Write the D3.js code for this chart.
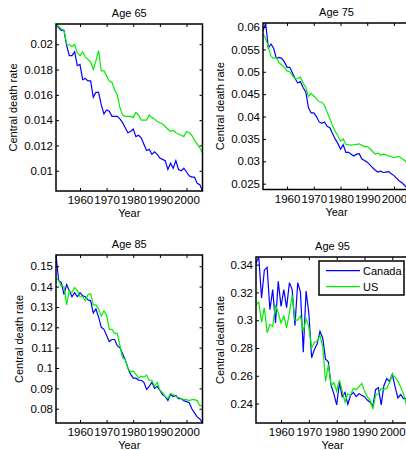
<!DOCTYPE html>
<html>
<head>
  <meta charset="UTF-8">
  <style>
    body { margin: 0; background: #fff; }
    svg { display: block; }
    text { font-family: "Liberation Sans", Arial, sans-serif; font-size: 11px; fill: #000; }
  </style>
</head>
<body>
<svg></svg>
<script src="https://d3js.org/d3.v7.min.js"></script>
<script>

let width = 406, height = 450;

// data
let years = [1951, 1952, 1953, 1954, 1955, 1956, 1957, 1958, 1959, 1960,
  1961, 1962, 1963, 1964, 1965, 1966, 1967, 1968, 1969, 1970,
  1971, 1972, 1973, 1974, 1975, 1976, 1977, 1978, 1979, 1980,
  1981, 1982, 1983, 1984, 1985, 1986, 1987, 1988, 1989, 1990,
  1991, 1992, 1993, 1994, 1995, 1996, 1997, 1998, 1999, 2000,
  2001, 2002, 2003, 2004, 2005, 2006];

let canada65 = [0.0216, 0.0213, 0.0211, 0.0211, 0.0199, 0.0191, 0.0191, 0.0194, 0.0183, 0.0184,
  0.0172, 0.0173, 0.0171, 0.0171, 0.0158, 0.0162, 0.0162, 0.0152, 0.0145, 0.0148,
  0.0147, 0.0143, 0.0143, 0.0143, 0.0141, 0.0138, 0.0134, 0.0130, 0.0131, 0.0133,
  0.0127, 0.0128, 0.0126, 0.0121, 0.0116, 0.0117, 0.0113, 0.0115, 0.0113, 0.0110,
  0.0109, 0.0108, 0.0101, 0.0106, 0.0102, 0.0108, 0.0101, 0.0100, 0.0102, 0.0099,
  0.0096, 0.0095, 0.0095, 0.0090, 0.0089, 0.0084];
let us65 = [0.0216, 0.0214, 0.0212, 0.0211, 0.0200, 0.0200, 0.0198, 0.0200, 0.0193, 0.0191,
  0.0194, 0.0190, 0.0188, 0.0186, 0.0180, 0.0187, 0.0195, 0.0179, 0.0179, 0.0175,
  0.0171, 0.0170, 0.0164, 0.0160, 0.0150, 0.0144, 0.0143, 0.0143, 0.0143, 0.0142,
  0.0146, 0.0144, 0.0140, 0.0140, 0.0140, 0.0144, 0.0142, 0.0141, 0.0139, 0.0138,
  0.0137, 0.0135, 0.0133, 0.0131, 0.0132, 0.0130, 0.0129, 0.0128, 0.0127, 0.0131,
  0.0130, 0.0128, 0.0124, 0.0121, 0.0118, 0.0114];

let canada75 = [0.0591, 0.0609, 0.0553, 0.0562, 0.0552, 0.0530, 0.0532, 0.0530, 0.0522, 0.0510,
  0.0510, 0.0498, 0.0485, 0.0475, 0.0478, 0.0465, 0.0455, 0.0420, 0.0408, 0.0408,
  0.0400, 0.0388, 0.0385, 0.0388, 0.0378, 0.0375, 0.0362, 0.0350, 0.0340, 0.0327,
  0.0337, 0.0320, 0.0320, 0.0316, 0.0312, 0.0316, 0.0317, 0.0305, 0.0302, 0.0298,
  0.0292, 0.0286, 0.0280, 0.0276, 0.0278, 0.0275, 0.0276, 0.0277, 0.0272, 0.0268,
  0.0262, 0.0256, 0.0252, 0.0246, 0.0240, 0.0237];
let us75 = [0.0584, 0.0575, 0.0555, 0.0535, 0.0530, 0.0532, 0.0520, 0.0515, 0.0510, 0.0502,
  0.0500, 0.0492, 0.0484, 0.0485, 0.0488, 0.0475, 0.0465, 0.0445, 0.0452, 0.0446,
  0.0440, 0.0433, 0.0432, 0.0425, 0.0410, 0.0395, 0.0380, 0.0367, 0.0357, 0.0345,
  0.0350, 0.0338, 0.0337, 0.0336, 0.0337, 0.0338, 0.0339, 0.0336, 0.0333, 0.0333,
  0.0328, 0.0322, 0.0316, 0.0318, 0.0314, 0.0316, 0.0315, 0.0312, 0.0310, 0.0308,
  0.0310, 0.0310, 0.0306, 0.0302, 0.0295, 0.0287];

let canada85 = [0.1555, 0.143, 0.142, 0.136, 0.141, 0.138, 0.135, 0.137, 0.135, 0.137,
  0.1355, 0.135, 0.1335, 0.133, 0.127, 0.129, 0.125, 0.120, 0.119, 0.116,
  0.113, 0.114, 0.114, 0.111, 0.110, 0.107, 0.104, 0.100, 0.097, 0.095,
  0.095, 0.094, 0.094, 0.093, 0.0895, 0.091, 0.093, 0.090, 0.091, 0.089,
  0.087, 0.086, 0.084, 0.087, 0.086, 0.0865, 0.085, 0.085, 0.084, 0.0835,
  0.083, 0.080, 0.078, 0.076, 0.075, 0.073];
let us85 = [0.144, 0.143, 0.140, 0.140, 0.131, 0.138, 0.137, 0.1395, 0.138, 0.135,
  0.135, 0.133, 0.136, 0.1365, 0.131, 0.131, 0.129, 0.1255, 0.128, 0.126,
  0.119, 0.119, 0.117, 0.117, 0.111, 0.105, 0.104, 0.100, 0.098, 0.0985,
  0.097, 0.095, 0.096, 0.0955, 0.0965, 0.094, 0.094, 0.091, 0.093, 0.089,
  0.088, 0.086, 0.085, 0.0875, 0.087, 0.086, 0.0855, 0.085, 0.0845, 0.0845,
  0.084, 0.0845, 0.0845, 0.084, 0.0815, 0.0815];

let canada95 = [0.341, 0.3455, 0.316, 0.336, 0.338, 0.3075, 0.322, 0.298, 0.328, 0.310,
  0.322, 0.309, 0.327, 0.322, 0.296, 0.327, 0.320, 0.277, 0.321, 0.305,
  0.273, 0.279, 0.283, 0.292, 0.287, 0.272, 0.270, 0.253, 0.247, 0.239,
  0.255, 0.245, 0.248, 0.2395, 0.246, 0.248, 0.245, 0.247, 0.246, 0.245,
  0.2425, 0.241, 0.238, 0.250, 0.2515, 0.239, 0.253, 0.258, 0.256, 0.261,
  0.252, 0.244, 0.2465, 0.2435, 0.2435, 0.243];
let us95 = [0.311, 0.313, 0.2985, 0.309, 0.291, 0.297, 0.2955, 0.311, 0.3055, 0.298,
  0.303, 0.2945, 0.305, 0.318, 0.300, 0.300, 0.303, 0.292, 0.301, 0.295,
  0.280, 0.284, 0.285, 0.289, 0.281, 0.256, 0.268, 0.253, 0.255, 0.249,
  0.257, 0.249, 0.241, 0.247, 0.246, 0.251, 0.250, 0.252, 0.2545, 0.249,
  0.245, 0.2425, 0.236, 0.246, 0.247, 0.251, 0.250, 0.251, 0.255, 0.261,
  0.259, 0.256, 0.252, 0.247, 0.240, 0.226];

let xTicks = [1960, 1970, 1980, 1990, 2000];
let yTicks65 = [0.01, 0.012, 0.014, 0.016, 0.018, 0.02];
let yTicks75 = [0.025, 0.03, 0.035, 0.04, 0.045, 0.05, 0.055, 0.06];
let yTicks85 = [0.08, 0.09, 0.1, 0.11, 0.12, 0.13, 0.14, 0.15];
let yTicks95 = [0.24, 0.26, 0.28, 0.3, 0.32, 0.34];

let seriesNames = ["Canada", "US"];
let colors = ["#0000ff", "#00ee00"];

// layout of the 4 subplots (pixel boxes)
let panels = [
  {title: "Age 65", data: [canada65, us65], yTicks: yTicks65, l: 56, t: 24, r: 202.5, b: 191, ylabX: 16.5},
  {title: "Age 75", data: [canada75, us75], yTicks: yTicks75, l: 263, t: 23, r: 410, b: 189.5, ylabX: 223.5},
  {title: "Age 85", data: [canada85, us85], yTicks: yTicks85, l: 56, t: 255, r: 202.5, b: 423, ylabX: 23},
  {title: "Age 95", data: [canada95, us95], yTicks: yTicks95, l: 256, t: 257, r: 409, b: 423, ylabX: 223.5, legend: true}
];

let svg = d3.select("svg")
    .attr("width", width)
    .attr("height", height);

panels.forEach(function(p, i) {
    let x = d3.scaleLinear().domain(d3.extent(years)).range([p.l, p.r]);
    let y = d3.scaleLinear().domain(d3.extent(p.data[0].concat(p.data[1]))).range([p.b, p.t]);

    let g = svg.append("g");

    g.append("clipPath").attr("id", "clip" + i)
      .append("rect")
      .attr("x", p.l).attr("y", p.t)
      .attr("width", p.r - p.l).attr("height", p.b - p.t);

    let line = d3.line()
        .x((d, j) => x(years[j]))
        .y(d => y(d));

    p.data.forEach(function(s, k) {
        g.append("path")
          .datum(s)
          .attr("clip-path", "url(#clip" + i + ")")
          .attr("fill", "none")
          .attr("stroke", colors[k])
          .attr("stroke-width", 1.2)
          .attr("d", line);
    });

    // ticks inside, all four sides
    let fmt = d3.format("~g");
    g.append("g").attr("transform", "translate(0," + p.b + ")")
      .call(d3.axisBottom(x).tickValues(xTicks).tickFormat(d3.format("d")).tickSizeInner(-3).tickSizeOuter(0).tickPadding(5));
    g.append("g").attr("transform", "translate(0," + p.t + ")")
      .call(d3.axisTop(x).tickValues(xTicks).tickFormat("").tickSizeInner(-3).tickSizeOuter(0));
    g.append("g").attr("transform", "translate(" + p.l + ",0)")
      .call(d3.axisLeft(y).tickValues(p.yTicks).tickFormat(fmt).tickSizeInner(-3).tickSizeOuter(0).tickPadding(3));
    g.append("g").attr("transform", "translate(" + p.r + ",0)")
      .call(d3.axisRight(y).tickValues(p.yTicks).tickFormat("").tickSizeInner(-3).tickSizeOuter(0));

    g.selectAll(".domain").remove();
    g.selectAll(".tick line").attr("stroke", "#000");
    g.selectAll(".tick text")
      .attr("fill", "#000")
      .style("font-family", '"Liberation Sans", Arial, sans-serif')
      .style("font-size", "11.5px");

    g.append("rect")
      .attr("x", p.l).attr("y", p.t)
      .attr("width", p.r - p.l).attr("height", p.b - p.t)
      .attr("fill", "none")
      .attr("stroke", "#000")
      .attr("stroke-width", 1.5);

    g.append("text")
      .attr("x", (p.l + p.r) / 2).attr("y", p.t - 7)
      .attr("text-anchor", "middle")
      .text(p.title);

    g.append("text")
      .attr("x", (p.l + p.r) / 2).attr("y", p.b + 26)
      .attr("text-anchor", "middle")
      .text("Year");

    g.append("text")
      .attr("transform", "translate(" + p.ylabX + "," + ((p.t + p.b) / 2) + ") rotate(-90)")
      .attr("text-anchor", "middle")
      .text("Central death rate");

    if (p.legend) {
        let lg = g.append("g");
        lg.append("rect")
          .attr("x", 319).attr("y", 261)
          .attr("width", 85).attr("height", 34)
          .attr("fill", "#fff")
          .attr("stroke", "#000")
          .attr("stroke-width", 1.5);
        seriesNames.forEach(function(name, k) {
            let ly = 270.7 + k * 16;
            lg.append("line")
              .attr("x1", 326).attr("x2", 360)
              .attr("y1", ly).attr("y2", ly)
              .attr("stroke", colors[k])
              .attr("stroke-width", 1.2);
            lg.append("text")
              .attr("x", 363).attr("y", ly + 4)
              .style("font-size", "11px")
              .text(name);
        });
    }
});

</script>
</body>
</html>
